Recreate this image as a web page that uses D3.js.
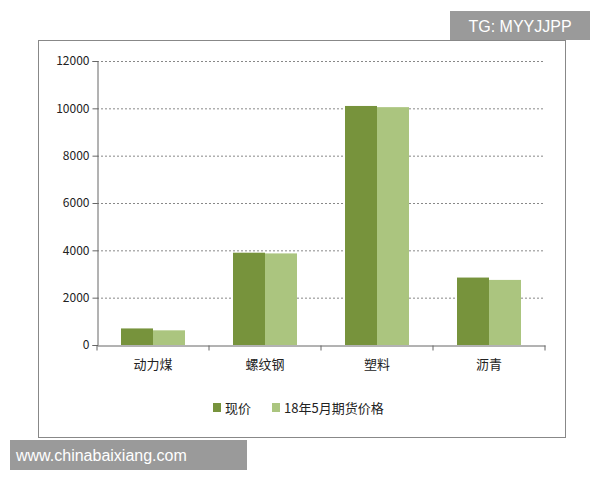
<!DOCTYPE html><html><head><meta charset="utf-8"><script src="https://cdn.jsdelivr.net/npm/d3@7"></script>
<style>body{margin:0;background:#fff}text{font-family:"Noto Sans CJK SC","DejaVu Sans",sans-serif}</style></head><body>
<svg width="600" height="480"></svg>
<script>
const categories=["动力煤","螺纹钢","塑料","沥青"];
const spot=[700,3900,10100,2850];
const futures=[620,3870,10050,2750];
const seriesNames=["现价","18年5月期货价格"];
const ticks=[0,2000,4000,6000,8000,10000,12000];
const colors=["#77933c","#abc57f"];
const svg=d3.select("svg");
svg.append("rect").attr("x",38.5).attr("y",40.5).attr("width",527).attr("height",397).attr("fill","#fff").attr("stroke","#888");
const x=d3.scaleBand().domain(categories).range([97,545]);
const y=d3.scaleLinear().domain([0,12000]).range([345,61]);
svg.append("g").selectAll("line").data(ticks.slice(1)).join("line")
 .attr("x1",97).attr("x2",545).attr("y1",d=>y(d)+.5).attr("y2",d=>y(d)+.5)
 .attr("stroke","#888").attr("stroke-dasharray","2,2");
const bw=32;
[spot,futures].forEach((s,i)=>{
 svg.append("g").selectAll("rect").data(s).join("rect")
  .attr("x",(d,j)=>x(categories[j])+x.bandwidth()/2-bw+i*bw).attr("width",bw)
  .attr("y",d=>y(d)).attr("height",d=>y(0)-y(d)).attr("fill",colors[i]);
});
const ya=svg.append("g").attr("transform","translate(97.5,0)").call(d3.axisLeft(y).tickValues(ticks).tickSize(5).tickFormat(d3.format("d")));
ya.selectAll("text").attr("font-size",12).attr("fill","#222");
ya.selectAll("line,path").attr("stroke","#666");
const xa=svg.append("g").attr("transform","translate(0,345.5)").call(d3.axisBottom(x).tickSize(0).tickPadding(14));
xa.selectAll("text").attr("font-size",13).attr("fill","#222");
xa.selectAll("path").attr("stroke","#666");
xa.selectAll(".tk").data(d3.range(5)).join("line").attr("x1",d=>97+d*x.bandwidth()).attr("x2",d=>97+d*x.bandwidth()).attr("y1",0).attr("y2",5).attr("stroke","#666");
const lg=[{x:213,t:seriesNames[0]},{x:272,t:seriesNames[1]}];
lg.forEach((l,i)=>{
 svg.append("rect").attr("x",l.x).attr("y",403).attr("width",8).attr("height",9).attr("fill",colors[i]);
 svg.append("text").attr("x",l.x+12).attr("y",413).attr("font-size",13).attr("fill","#222").text(l.t);
});
svg.append("rect").attr("x",450).attr("y",11).attr("width",140).attr("height",29).attr("fill","#9a9a9a");
svg.append("text").attr("x",520).attr("y",32).attr("text-anchor","middle").attr("fill","#fff").attr("font-size",16).style("font-family","Liberation Sans").text("TG: MYYJJPP");
svg.append("rect").attr("x",10).attr("y",440).attr("width",237).attr("height",30).attr("fill","#9a9a9a");
svg.append("text").attr("x",16).attr("y",461).attr("fill","#fff").attr("font-size",16).style("font-family","Liberation Sans").text("www.chinabaixiang.com");
</script></body></html>
